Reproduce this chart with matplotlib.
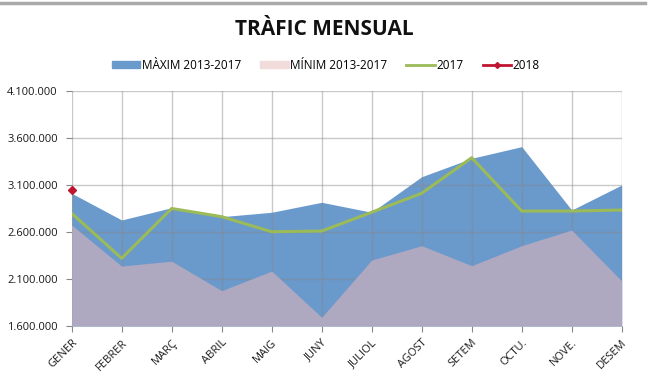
import numpy as np
import matplotlib.pyplot as plt
from matplotlib.patches import Patch
from matplotlib.lines import Line2D
from matplotlib.ticker import FuncFormatter

mesos = ['GENER', 'FEBRER', 'MARÇ', 'ABRIL', 'MAIG', 'JUNY',
         'JULIOL', 'AGOST', 'SETEM', 'OCTU.', 'NOVE.', 'DESEM']
maxim = [3012000, 2728000, 2859000, 2763000, 2810000, 2916000,
         2810000, 3188000, 3384000, 3508000, 2834000, 3100000]
minim = [2674000, 2238000, 2290000, 1976000, 2185000, 1693000,
         2302000, 2455000, 2242000, 2455000, 2621000, 2079000]
any2017 = [2799000, 2320000, 2850000, 2763000, 2603000, 2610000,
           2810000, 3012000, 3390000, 2823000, 2823000, 2834000]
any2018 = [3047000]

plt.rcParams['font.family'] = ['Open Sans', 'DejaVu Sans']

fig = plt.figure(figsize=(6.48, 3.79), dpi=100)
ax = fig.add_axes([0.1106, 0.1398, 0.8488, 0.6201])

x = np.arange(len(mesos))
ax.fill_between(x, 1600000, maxim, color='#6A99CC', lw=0, zorder=2)
ax.fill_between(x, 1600000, minim, color='#AEA8C0', lw=0, zorder=3)
ax.plot(x, any2017, color='#9BBB59', lw=2.2, zorder=5)
ax.plot(x[:len(any2018)], any2018, color='#C0152F', marker='D', ms=4, lw=2,
        zorder=6, clip_on=False)

ax.set_xlim(0, len(mesos) - 1)
ax.set_ylim(1600000, 4100000)
ax.set_yticks(np.arange(1600000, 4100001, 500000))
ax.yaxis.set_major_formatter(FuncFormatter(lambda v, p: f'{int(v):,}'.replace(',', '.')))
ax.set_xticks(x)
ax.set_xticklabels(mesos, rotation=45, ha='right', rotation_mode='anchor')

ax.grid(True, color='#888888', lw=1, alpha=0.45, zorder=4)
ax.set_axisbelow(False)
for s in ax.spines.values():
    s.set_visible(False)
ax.tick_params(axis='both', length=4, color='#888888', labelsize=8, labelcolor='#1a1a1a')
ax.tick_params(axis='y', pad=6)
ax.tick_params(axis='x', pad=4)

fig.text(0.5, 0.922, 'TRÀFIC MENSUAL', ha='center', va='center',
         fontsize=15, fontweight='bold', color='#111111')

handles = [Patch(color='#6A99CC'), Patch(color='#F2DCDB'),
           Line2D([], [], color='#9BBB59', lw=2),
           Line2D([], [], color='#C0152F', lw=2, marker='D', ms=3)]
labels = ['MÀXIM 2013-2017', 'MÍNIM 2013-2017', '2017', '2018']
fig.legend(handles, labels, loc='center', bbox_to_anchor=(0.503, 0.828), ncol=4,
           frameon=False, fontsize=8.5, handlelength=2.4, handleheight=0.6,
           handletextpad=0.15, columnspacing=1.6)

fig.add_artist(Line2D([0, 0.995], [0.992, 0.992], color='#AAAAAA', lw=2.5))

fig.savefig('out.png', dpi=100)
